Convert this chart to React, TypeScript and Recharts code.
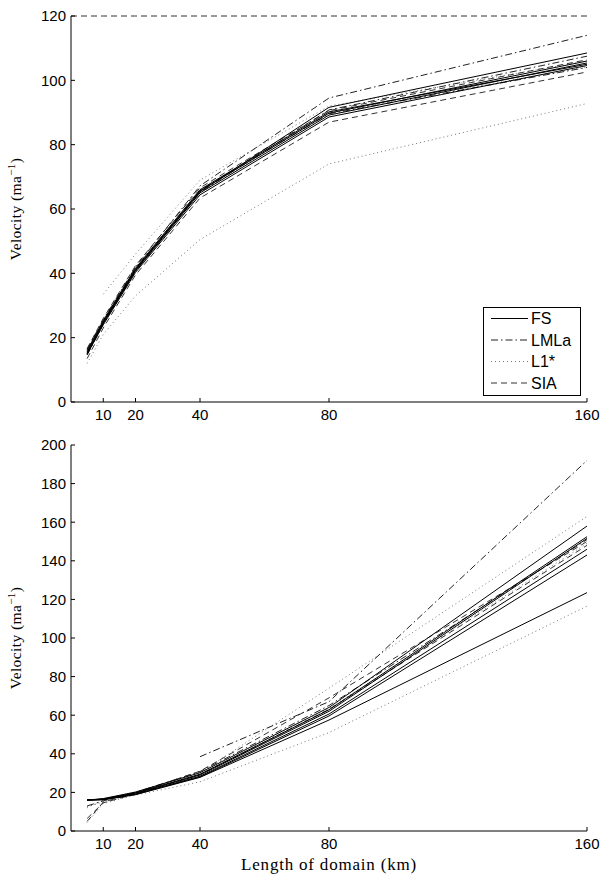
import React from "react";
import { LineChart, Line, XAxis, YAxis, Legend, Label } from "recharts";

// domain lengths (km) where every model was run
const lengths = [5, 10, 20, 40, 80, 160];
const siaLengths = [0, 5, 10, 20, 40, 80, 160];
const xTicks = [10, 20, 40, 80, 160];
const topYTicks = [0, 20, 40, 60, 80, 100, 120];
const bottomYTicks = [0, 20, 40, 60, 80, 100, 120, 140, 160, 180, 200];

// top panel, velocity (m/a)
const fsTop = [
  [15.2, 24.5, 40.8, 65.0, 89.2, 105.4],
  [15.6, 25.0, 41.3, 65.6, 89.8, 106.0],
  [14.8, 24.0, 40.3, 64.4, 88.6, 104.6],
  [15.0, 24.6, 41.0, 65.4, 91.6, 108.5],
  [16.0, 25.3, 41.6, 66.0, 90.2, 105.0],
];
const lmlaTop = [
  [16.4, 25.6, 42.0, 67.2, 94.5, 114.0],
  [14.6, 24.2, 40.6, 65.2, 90.8, 107.5],
  [15.4, 24.8, 41.2, 65.8, 89.6, 104.0],
];
const l1Top = [
  [null, 33.5, 46.0, 69.0, 92.0, 106.0],
  [12.0, 21.0, 33.0, 50.5, 74.0, 92.8],
  [15.0, 24.2, 40.8, 65.0, 90.0, 104.2],
];
const dashedTop = [
  [13.5, 23.0, 39.5, 63.4, 87.0, 102.6],
  [16.6, 26.0, 42.4, 66.6, 90.6, 106.4],
];
const siaTop = [120, 120, 120, 120, 120, 120, 120];

// bottom panel
const fsBottom = [
  [16.2, 16.4, 19.6, 29.0, 62.0, 151.6],
  [16.0, 16.6, 19.8, 29.4, 62.8, 152.5],
  [16.0, 16.8, 20.2, 30.2, 64.0, 158.0],
  [16.0, 16.4, 19.2, 28.4, 60.6, 146.0],
  [16.0, 16.2, 19.0, 28.0, 59.6, 143.0],
  [16.0, 16.2, 18.8, 27.8, 57.5, 123.5],
];
const lmlaBottom = [
  [null, null, null, 38.5, 67.0, 192.0],
  [13.0, 15.6, 20.0, 30.8, 65.0, 151.0],
];
const l1Bottom = [
  [12.6, 15.0, 20.2, 30.2, 74.0, 163.0],
  [4.4, 14.2, 18.6, 25.5, 51.0, 116.5],
  [12.0, 16.0, 19.6, 29.6, 63.5, 149.0],
];
const dashedBottom = [
  [5.0, 15.0, 19.6, 31.0, 69.0, 150.0],
  [6.5, 14.6, 19.2, 29.2, 63.0, 148.0],
];

const legendNames = ["FS", "LMLa", "L1*", "SIA"];

const STYLE: any = {
  FS: { stroke: "#000", dash: undefined },
  LMLa: { stroke: "#222", dash: "7 3 1.5 3" },
  "L1*": { stroke: "#777", dash: "1 3" },
  SIA: { stroke: "#333", dash: "6 4" },
};

const FONT = "Liberation Sans";
const SERIF = "Liberation Serif";

function buildRows(groups: any[]) {
  return siaLengths.map((x) => {
    const row: any = { x };
    groups.forEach((g) => {
      g.lines.forEach((vals: any[], j: number) => {
        const xs = g.xs || lengths;
        const idx = xs.indexOf(x);
        row[`${g.key}${j}`] = idx < 0 ? null : vals[idx];
      });
    });
    return row;
  });
}

function seriesList(groups: any[]) {
  const out: any[] = [];
  groups.forEach((g) =>
    g.lines.forEach((_: any, j: number) =>
      out.push({ key: `${g.key}${j}`, style: STYLE[g.style] })
    )
  );
  return out;
}

const topGroups = [
  { key: "l1", style: "L1*", lines: l1Top },
  { key: "dsh", style: "SIA", lines: dashedTop },
  { key: "lmla", style: "LMLa", lines: lmlaTop },
  { key: "fs", style: "FS", lines: fsTop },
  { key: "sia", style: "SIA", lines: [siaTop], xs: siaLengths },
];
const bottomGroups = [
  { key: "l1", style: "L1*", lines: l1Bottom },
  { key: "dsh", style: "SIA", lines: dashedBottom },
  { key: "lmla", style: "LMLa", lines: lmlaBottom },
  { key: "fs", style: "FS", lines: fsBottom },
];

const tickStyle = { fill: "#000", fontSize: 15, fontFamily: FONT };

const VelocityLabel = ({ viewBox }: any) => {
  const cy = viewBox.y + viewBox.height / 2;
  return (
    <text
      transform={`translate(21,${cy}) rotate(-90)`}
      textAnchor="middle"
      fontFamily={SERIF}
      fontSize={15.5}
      letterSpacing={0.4}
      fill="#000"
    >
      Velocity (ma
      <tspan dy={-6} fontSize={11}>
        −1
      </tspan>
      <tspan dy={6}>)</tspan>
    </text>
  );
};

const LengthLabel = ({ viewBox, value }: any) => (
  <text
    x={viewBox.x + viewBox.width / 2}
    y={viewBox.y + 39}
    textAnchor="middle"
    fontFamily={SERIF}
    fontSize={17}
    letterSpacing={0.8}
    fill="#000"
  >
    {value}
  </text>
);

const LegendBox = () => (
  <div
    style={{
      width: 98,
      height: 89,
      border: "1.5px solid #000",
      boxSizing: "border-box",
      background: "#fff",
    }}
  >
    <svg width={95} height={86} style={{ display: "block" }}>
      {legendNames.map((name, i) => {
        const y = 10.5 + i * 21.5;
        return (
          <g key={name}>
            <line
              x1={7}
              x2={44}
              y1={y}
              y2={y}
              stroke={STYLE[name].stroke}
              strokeDasharray={STYLE[name].dash}
            />
            <text x={47} y={y + 5.5} fontFamily={FONT} fontSize={16} fill="#000">
              {name}
            </text>
          </g>
        );
      })}
    </svg>
  </div>
);

function Panel({ groups, yTicks, yMax, height, top, xLabel, legend }: any) {
  const rows = buildRows(groups);
  const series = seriesList(groups);
  return (
    <div style={{ position: "absolute", left: 0, top }}>
      <LineChart
        width={606}
        height={height}
        data={rows}
        margin={{ top: top === 0 ? 16 : 15, right: 19, bottom: 0, left: 0 }}
      >
        <XAxis
          dataKey="x"
          type="number"
          domain={[0, 160]}
          ticks={xTicks}
          interval={0}
          height={xLabel ? 44 : 28}
          tick={tickStyle}
          tickSize={-4}
          tickMargin={11}
          axisLine={{ stroke: "#000" }}
          tickLine={{ stroke: "#000" }}
        >
          {xLabel && <Label value={xLabel} content={<LengthLabel value={xLabel} />} />}
        </XAxis>
        <YAxis
          type="number"
          domain={[0, yMax]}
          ticks={yTicks}
          interval={0}
          width={71}
          tick={tickStyle}
          tickSize={-4}
          tickMargin={9}
          axisLine={{ stroke: "#000" }}
          tickLine={{ stroke: "#000" }}
        >
          <Label content={<VelocityLabel />} />
        </YAxis>
        {series.map((s) => (
          <Line
            key={s.key}
            dataKey={s.key}
            type="linear"
            stroke={s.style.stroke}
            strokeDasharray={s.style.dash}
            strokeWidth={1}
            dot={false}
            activeDot={false}
            connectNulls={false}
            isAnimationActive={false}
          />
        ))}
        {legend && (
          <Legend
            layout="horizontal"
            verticalAlign="middle"
            align="center"
            content={<LegendBox />}
            wrapperStyle={{ left: 483, top: 307, width: 98, height: 89 }}
          />
        )}
      </LineChart>
    </div>
  );
}

export default function App() {
  return (
    <div
      style={{
        position: "absolute",
        left: 0,
        top: 0,
        width: 606,
        height: 875,
        background: "#fff",
      }}
    >
      <Panel groups={topGroups} yTicks={topYTicks} yMax={120} height={430} top={0} legend />
      <Panel
        groups={bottomGroups}
        yTicks={bottomYTicks}
        yMax={200}
        height={445}
        top={430}
        xLabel="Length of domain (km)"
      />
    </div>
  );
}
